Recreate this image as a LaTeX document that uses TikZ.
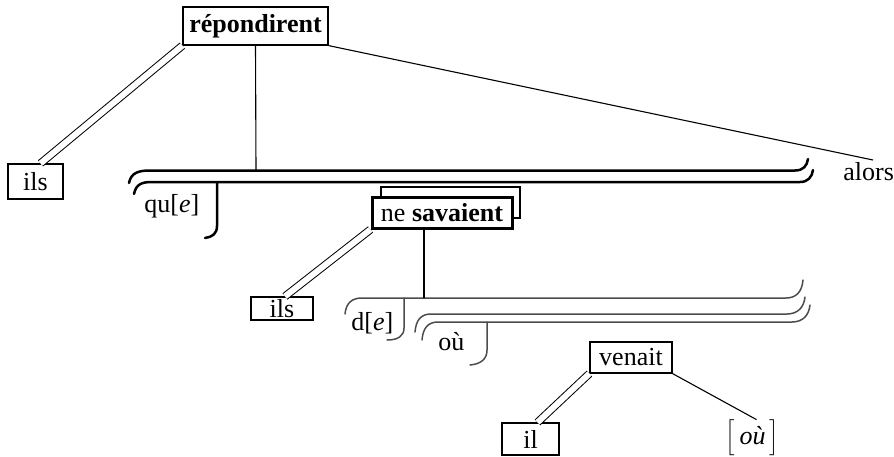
\documentclass[tikz,border=0pt]{standalone}
\usepackage{fontspec}
\setmainfont{Liberation Serif}
\usetikzlibrary{calc}
\begin{document}
\begin{tikzpicture}[x=0.5pt,y=-0.5pt,
  every node/.style={font=\fontsize{13}{15}\selectfont},
  wbox/.style={draw,line width=0.6pt,fill=white,inner sep=0pt},
  plain/.style={inner sep=0pt},
  dbl/.style={double,double distance=3pt,line width=0.5pt},
  thin/.style={line width=0.55pt},
  thickbr/.style={line width=1.25pt,line cap=round},
  thinbr/.style={line width=0.75pt,black!70,line cap=round}]
\useasboundingbox (0,0) rectangle (894,456);

% nodes
\node[wbox,minimum width=72.5pt,minimum height=19pt] (rep) at (255.5,26) {\textbf{répondirent}};
\node[wbox,minimum width=27.5pt,minimum height=17.5pt] (ils1) at (35.5,181.5) {ils};
\node[plain,anchor=base west] (alors) at (843,180) {alors};
\node[plain,anchor=base west] (que) at (144,212) {qu[\textit{e}]};

\draw[thin,fill=white] (381,187) rectangle (520,218);
\node[draw,line width=1.5pt,fill=white,inner sep=0pt,minimum width=70pt,minimum height=15.5pt] (ns) at (442,212.5) {ne \textbf{savaient}};
\node[wbox,minimum width=31pt,minimum height=11.5pt] (ils2) at (282,308.5) {ils};
\node[plain,anchor=base west] (de) at (351,330) {d[\textit{e}]};
\node[plain,anchor=base west] (ou) at (438,350) {où};
\node[wbox,minimum width=41pt,minimum height=15.5pt] (venait) at (631,357.5) {venait};
\node[wbox,minimum width=28.5pt,minimum height=16pt] (il) at (530.5,439) {il};
\node[plain] (ou2) at (752.5,438) {$\Bigl[$\,\textit{où}\,$\Bigr]$};

% brackets of qu[e]
\draw[thickbr] (129,183) .. controls (131,173) and (138,170.5) .. (150,170.5) -- (795,170.5) .. controls (803,170.5) and (807,166) .. (808,159);
\draw[thickbr] (134,194) .. controls (136,184) and (142,182) .. (152,182) -- (800,182) .. controls (808,182) and (812,177) .. (813,170);
\draw[thickbr] (217,182) -- (217,226) .. controls (217,234) and (212,237) .. (205,238);

% brackets of d[e] and où
\draw[thinbr] (345,314) .. controls (346,303) and (352,298) .. (362,298) -- (786,298) .. controls (796,298) and (802,292) .. (803,280);
\draw[thinbr] (404,298) -- (404,328) .. controls (404,336) and (398,340) .. (387,340);
\draw[thinbr] (415,332) .. controls (416,320) and (421,314) .. (431,314) -- (787,314) .. controls (798,314) and (804,307) .. (805,297);
\draw[thinbr] (422,340) .. controls (423,328) and (428,322) .. (438,322) -- (792,322) .. controls (803,322) and (809,315) .. (810,305);
\draw[thinbr] (487,322) -- (487,350) .. controls (487,359) and (481,364) .. (470,365);

% connectors
\coordinate (topbar) at (256,170.5);
\coordinate (debar) at (424,298);
\coordinate (alorsend) at (873,160);
\draw[dbl] (rep.south west) -- ($(ils1.north)+(5,0)$);
\draw[thin] (rep.south) -- (topbar);
\draw[thin] (rep.south east) -- (alorsend);
\draw[dbl] (ns.south west) -- ($(ils2.north)+(3,0)$);
\draw[thin] (ns.south -| debar) -- (debar);
\draw[dbl] (venait.south west) -- ($(il.north)+(7,0)$);
\draw[thin] (venait.south east) -- ($(ou2.north)+(4,0)$);
\end{tikzpicture}
\end{document}
